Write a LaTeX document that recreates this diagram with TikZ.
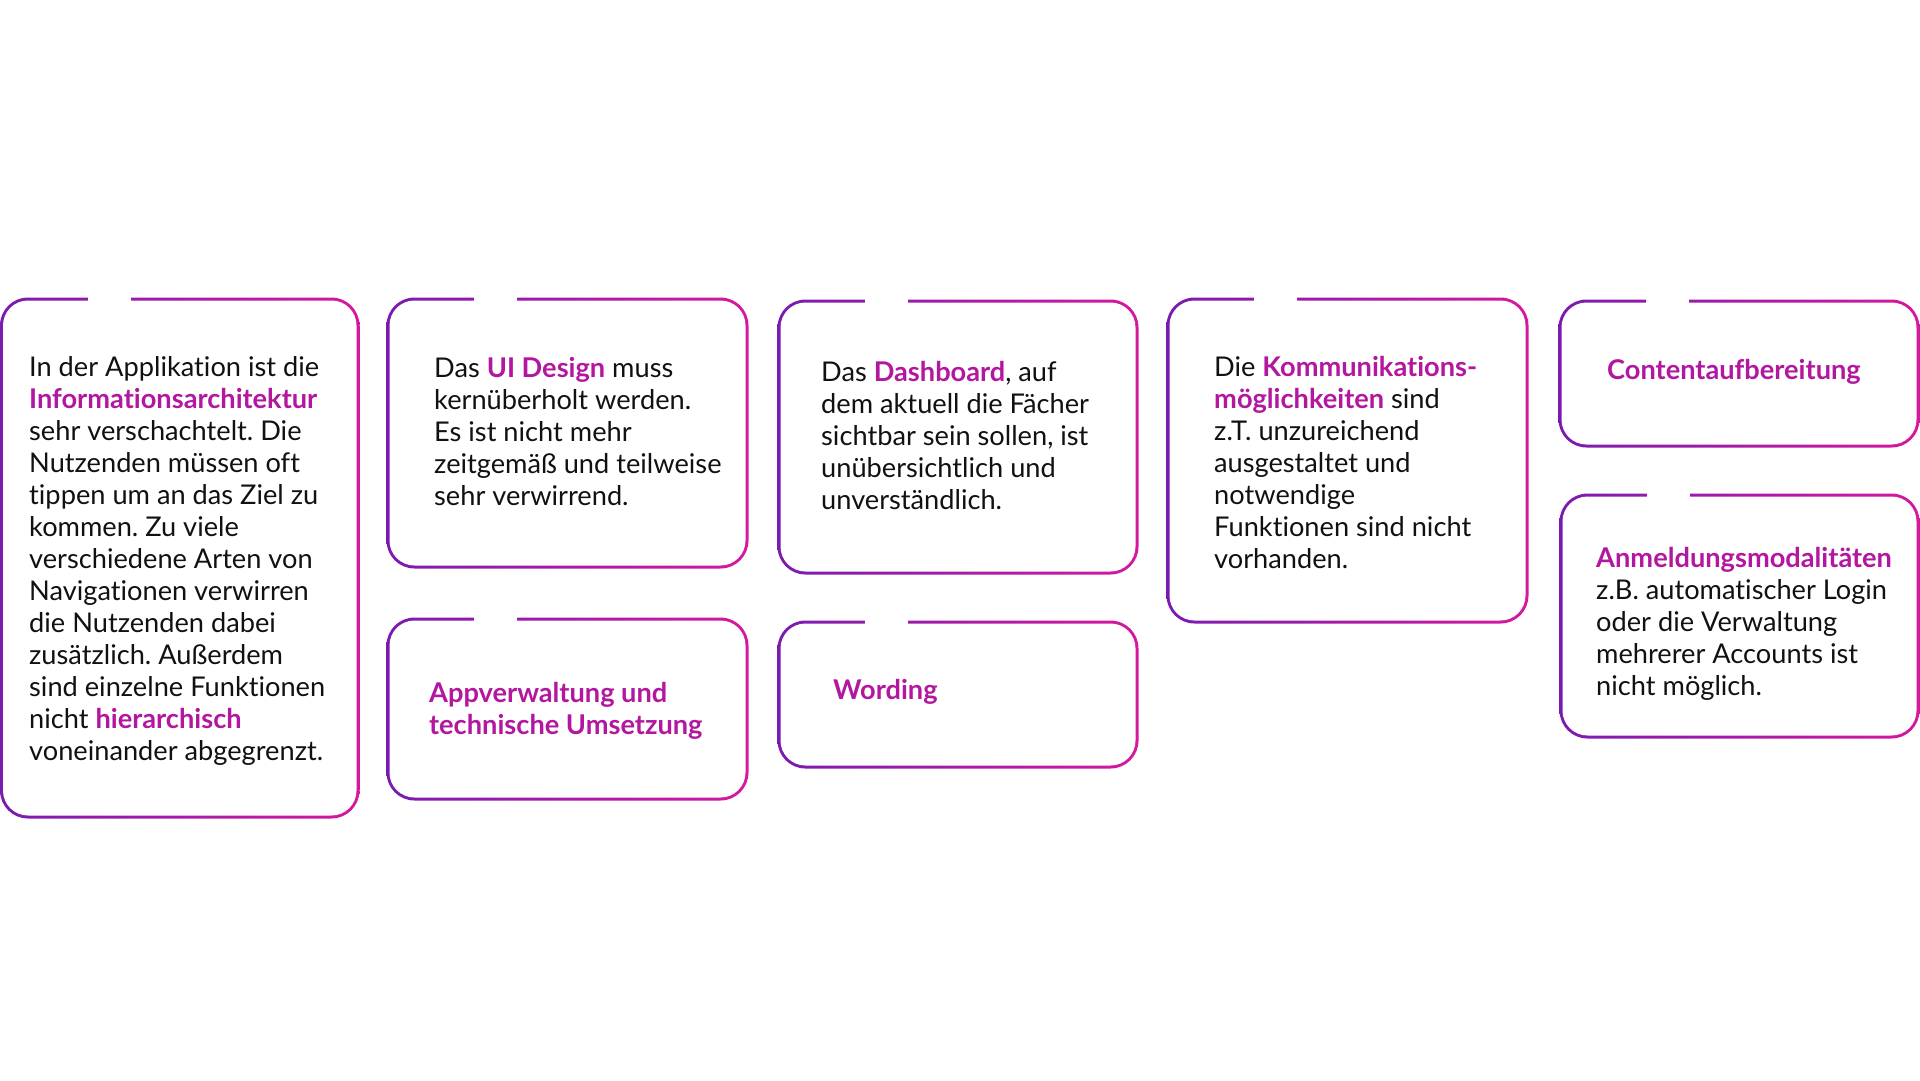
\documentclass[tikz,border=0pt]{standalone}
\usepackage{fontspec}
\setmainfont{Lato}[Ligatures={NoCommon}]
\usepackage{tikz}
\definecolor{lila}{HTML}{7A1BB0}
\definecolor{pink}{HTML}{D6189E}
\definecolor{akzent}{HTML}{B3169F}
\definecolor{tinte}{HTML}{111111}
\tikzset{
	txt/.style={anchor=base west,align=left,inner sep=0pt,text=tinte,font=\fontsize{27.2}{32}\selectfont},
	rahmen/.style={left color=lila,right color=pink,rounded corners=28pt},
	innen/.style={fill=white,rounded corners=25pt}
}
\frenchspacing
\newcommand{\hl}[1]{\textcolor{akzent}{\bfseries #1}}
% name, links, oben, rechts, unten
\newcommand{\kachel}[5]{%
	\path[rahmen] (#2-1.5,#3-1.5) rectangle (#4+1.5,#5+1.5);
	\path[innen] (#2+1.5,#3+1.5) rectangle (#4-1.5,#5-1.5);
	\fill[white] (#2+86,#3-5) rectangle (#2+129,#3+5);
	\coordinate (#1) at (#2,#3);
}

\begin{document}
\begin{tikzpicture}[x=1pt,y=-1pt]
	\useasboundingbox (0,0) rectangle (1920,1080);
	\kachel{k1}{1.5}{299}{358}{817}
	\kachel{k2}{388}{299}{747}{567}
	\kachel{k3}{779}{301}{1137}{573}
	\kachel{k4}{1168}{299}{1527}{622}
	\kachel{k5}{388}{619}{747}{799}
	\kachel{k6}{779}{622}{1137}{767}
	\kachel{k7}{1560}{301}{1918}{446}
	\kachel{k8}{1561}{495}{1918}{737}

	% Textblöcke: Position = Grundlinie der letzten Zeile
	\node[txt] (t1) at (29,760) {In der Applikation ist die\\\hl{Informationsarchitektur}\\sehr verschachtelt. Die\\Nutzenden müssen oft\\tippen um an das Ziel zu\\kommen. Zu viele\\verschiedene Arten von\\Navigationen verwirren\\die Nutzenden dabei\\zusätzlich. Außerdem\\sind einzelne Funktionen\\nicht \hl{hierarchisch}\\voneinander abgegrenzt.};
	\node[txt] (t2) at (434,505) {Das \hl{UI Design} muss\\kernüberholt werden.\\Es ist nicht mehr\\zeitgemäß und teilweise\\sehr verwirrend.};
	\node[txt] (t3) at (821,509) {Das \hl{Dashboard}, auf\\dem aktuell die Fächer\\sichtbar sein sollen, ist\\unübersichtlich und\\unverständlich.};
	\node[txt] (t4) at (1214,568) {Die \hl{Kommunikations-}\\\hl{möglichkeiten} sind\\z.T. unzureichend\\ausgestaltet und\\notwendige\\Funktionen sind nicht\\vorhanden.};
	\node[txt] (t5) at (429,734) {\hl{Appverwaltung und}\\\hl{technische Umsetzung}};
	\node[txt] (t6) at (833,699) {\hl{Wording}};
	\node[txt] (t7) at (1607,379) {\hl{Contentaufbereitung}};
	\node[txt] (t8) at (1596,695) {\hl{Anmeldungsmodalitäten}\\z.B. automatischer Login\\oder die Verwaltung\\mehrerer Accounts ist\\nicht möglich.};
\end{tikzpicture}
\end{document}
